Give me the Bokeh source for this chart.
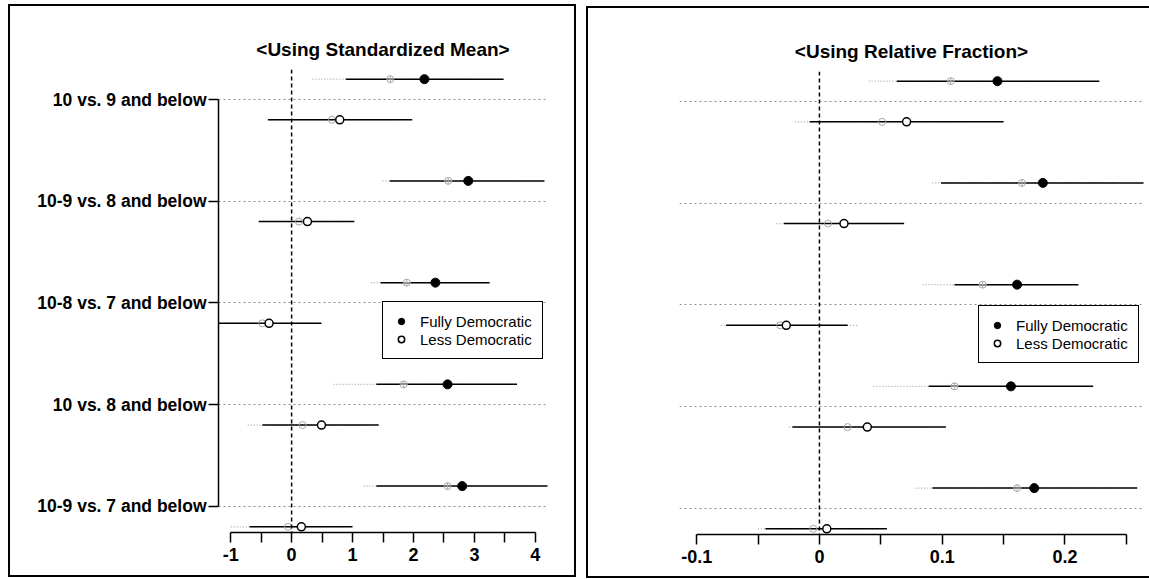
from bokeh.plotting import figure
from bokeh.layouts import row
from bokeh.models import (FixedTicker, Range1d, Span, Legend, LegendItem,
                          ColumnDataSource)
from bokeh.embed import file_html
from bokeh.resources import INLINE

# ---- categories (top to bottom) ----
groups = ["10 vs. 9 and below", "10-9 vs. 8 and below", "10-8 vs. 7 and below",
          "10 vs. 8 and below", "10-9 vs. 7 and below"]
group_pos = [1, 2, 3, 4, 5]

# ---- <Using Standardized Mean> ----
sm_full_est = [2.18, 2.90, 2.36, 2.56, 2.80]
sm_full_lo = [0.89, 1.61, 1.46, 1.39, 1.39]
sm_full_hi = [3.48, 4.15, 3.25, 3.70, 4.25]
sm_less_est = [0.79, 0.26, -0.37, 0.49, 0.16]
sm_less_lo = [-0.39, -0.54, -1.25, -0.48, -0.69]
sm_less_hi = [1.98, 1.03, 0.49, 1.43, 1.00]
sm_full_alt_est = [1.62, 2.57, 1.89, 1.84, 2.56]
sm_full_alt_lo = [0.34, 1.49, 1.30, 0.69, 1.18]
sm_full_alt_hi = [3.00, 3.70, 2.60, 3.00, 3.90]
sm_less_alt_est = [0.66, 0.12, -0.48, 0.18, -0.06]
sm_less_alt_lo = [-0.35, -0.50, -1.25, -0.72, -1.00]
sm_less_alt_hi = [1.70, 0.90, 0.30, 1.20, 0.85]
sm_xticks = [-1, -0.5, 0, 0.5, 1, 1.5, 2, 2.5, 3, 3.5, 4]
sm_xtick_labels = ["-1", "", "0", "", "1", "", "2", "", "3", "", "4"]

# ---- <Using Relative Fraction> ----
rf_full_est = [0.145, 0.182, 0.161, 0.156, 0.175]
rf_full_lo = [0.063, 0.099, 0.110, 0.089, 0.092]
rf_full_hi = [0.228, 0.270, 0.211, 0.223, 0.259]
rf_less_est = [0.071, 0.020, -0.027, 0.039, 0.006]
rf_less_lo = [-0.008, -0.029, -0.076, -0.022, -0.044]
rf_less_hi = [0.150, 0.069, 0.023, 0.103, 0.055]
rf_full_alt_est = [0.107, 0.165, 0.133, 0.110, 0.161]
rf_full_alt_lo = [0.040, 0.092, 0.084, 0.044, 0.078]
rf_full_alt_hi = [0.190, 0.240, 0.190, 0.200, 0.240]
rf_less_alt_est = [0.051, 0.007, -0.032, 0.023, -0.005]
rf_less_alt_lo = [-0.020, -0.035, -0.080, -0.025, -0.050]
rf_less_alt_hi = [0.120, 0.060, 0.032, 0.090, 0.045]
rf_xticks = [-0.1, -0.05, 0, 0.05, 0.1, 0.15, 0.2, 0.25]
rf_xtick_labels = ["-0.1", "", "0", "", "0.1", "", "0.2", ""]

FONT = "Liberation Sans"
ROW_OFFSET = 0.2
GRAY = "#a8a8a8"


def make_panel(title, x_range, x_bounds, xticks, xtick_labels, series,
               size, borders, frame_w, margin, frame_style, show_labels,
               legend_loc):
    p = figure(width=size[0], height=size[1],
               frame_width=frame_w, frame_height=463,
               x_range=Range1d(*x_range), y_range=Range1d(5.256, 0.705),
               output_backend="svg", toolbar_location=None,
               min_border_left=borders[0], min_border_right=borders[1],
               min_border_top=borders[2], min_border_bottom=borders[3],
               background_fill_color=None, border_fill_color=None,
               margin=margin, styles={"box-shadow": frame_style})
    p.outline_line_color = None

    # title
    p.title.text = title
    p.title.align = "center"
    p.title.text_font = FONT
    p.title.text_font_size = "19px"
    p.title.text_font_style = "bold"
    p.title.text_color = "black"
    p.title.standoff = 20

    # x axis
    xa = p.xaxis[0]
    xa.ticker = FixedTicker(ticks=xticks)
    xa.major_label_overrides = dict(zip(xticks, xtick_labels))
    xa.bounds = x_bounds
    xa.major_tick_out = 10
    xa.major_tick_in = 0
    xa.minor_tick_out = 0
    xa.minor_tick_in = 0
    xa.axis_line_width = 1.5
    xa.major_tick_line_width = 1.5
    xa.major_label_standoff = 5
    xa.major_label_text_font = FONT
    xa.major_label_text_font_size = "18px"
    xa.major_label_text_font_style = "bold"
    xa.major_label_text_color = "black"

    # y axis: bracket from first to last group
    ya = p.yaxis[0]
    ya.ticker = FixedTicker(ticks=group_pos)
    if show_labels:
        ya.major_label_overrides = dict(zip(group_pos, groups))
        ya.bounds = (1, 5)
        ya.major_tick_out = 10
        ya.major_tick_in = 0
        ya.minor_tick_out = 0
        ya.minor_tick_in = 0
        ya.axis_line_width = 1.5
        ya.major_tick_line_width = 1.5
        ya.major_label_standoff = 2
        ya.major_label_text_font = FONT
        ya.major_label_text_font_size = "17.5px"
        ya.major_label_text_font_style = "bold"
        ya.major_label_text_color = "black"
    else:
        ya.visible = False

    # dotted guide lines at each group
    p.xgrid.visible = False
    p.ygrid.ticker = FixedTicker(ticks=group_pos)
    p.ygrid.grid_line_color = "#8c8c8c"
    p.ygrid.grid_line_dash = "2 3"
    p.ygrid.grid_line_width = 1

    # reference line at zero
    p.add_layout(Span(location=0, dimension="height", line_color="black",
                      line_dash="4 3", line_width=1.5))

    (f_est, f_lo, f_hi, l_est, l_lo, l_hi,
     fa_est, fa_lo, fa_hi, la_est, la_lo, la_hi) = series
    y_full = [g - ROW_OFFSET for g in group_pos]
    y_less = [g + ROW_OFFSET for g in group_pos]

    alt_full = ColumnDataSource(dict(y=y_full, est=fa_est, lo=fa_lo, hi=fa_hi))
    alt_less = ColumnDataSource(dict(y=y_less, est=la_est, lo=la_lo, hi=la_hi))
    full = ColumnDataSource(dict(y=y_full, est=f_est, lo=f_lo, hi=f_hi))
    less = ColumnDataSource(dict(y=y_less, est=l_est, lo=l_lo, hi=l_hi))

    # secondary estimates: light gray, dotted intervals
    for src in (alt_full, alt_less):
        p.segment(x0="lo", y0="y", x1="hi", y1="y", source=src,
                  line_color=GRAY, line_dash="1 2", line_width=1.3)

    # main intervals
    for src in (full, less):
        p.segment(x0="lo", y0="y", x1="hi", y1="y", source=src,
                  line_color="black", line_width=1.5)

    p.scatter(x="est", y="y", source=alt_full, marker="circle_cross", size=7,
              line_color=GRAY, fill_color=None, line_width=1)
    p.scatter(x="est", y="y", source=alt_less, marker="circle", size=7,
              line_color=GRAY, fill_color=None, line_width=1)

    r_full = p.scatter(x="est", y="y", source=full, marker="circle", size=9,
                       fill_color="black", line_color="black")
    r_less = p.scatter(x="est", y="y", source=less, marker="circle", size=8,
                       fill_color="white", line_color="black", line_width=1.5)

    legend = Legend(items=[LegendItem(label="Fully Democratic", renderers=[r_full]),
                           LegendItem(label="Less Democratic", renderers=[r_less])],
                    location=legend_loc, margin=0, padding=10, spacing=0,
                    label_height=18, glyph_height=18, glyph_width=16,
                    label_standoff=11, label_text_font=FONT,
                    label_text_font_size="15px", label_text_color="black",
                    border_line_color="black", border_line_alpha=1,
                    border_line_width=1.5, background_fill_color="white",
                    background_fill_alpha=1)
    p.add_layout(legend, "center")
    return p


# left panel: canvas 568x573 at (8, 4); boxed on all four sides
p1 = make_panel("<Using Standardized Mean>", (-1.2, 4.2), (-1, 4),
                sm_xticks, sm_xtick_labels,
                (sm_full_est, sm_full_lo, sm_full_hi, sm_less_est, sm_less_lo, sm_less_hi,
                 sm_full_alt_est, sm_full_alt_lo, sm_full_alt_hi,
                 sm_less_alt_est, sm_less_alt_lo, sm_less_alt_hi),
                size=(568, 573), borders=(210, 29, 65, 45), frame_w=329,
                margin=(4, 0, 2, 8), frame_style="inset 0 0 0 2px black",
                show_labels=True, legend_loc=(164, 173))

# right panel: canvas 563x572 at (586, 6); its right edge runs off the page
p2 = make_panel("<Using Relative Fraction>", (-0.114, 0.264), (-0.1, 0.25),
                rf_xticks, rf_xtick_labels,
                (rf_full_est, rf_full_lo, rf_full_hi, rf_less_est, rf_less_lo, rf_less_hi,
                 rf_full_alt_est, rf_full_alt_lo, rf_full_alt_hi,
                 rf_less_alt_est, rf_less_alt_lo, rf_less_alt_hi),
                size=(563, 572), borders=(93, 6, 65, 44), frame_w=464,
                margin=(6, 0, 1, 10),
                frame_style="inset 2px 2px 0 0 black, inset 0 -2px 0 0 black",
                show_labels=False, legend_loc=(299, 171))

layout = row(p1, p2)
open("out.html", "w").write(file_html(layout, INLINE))
